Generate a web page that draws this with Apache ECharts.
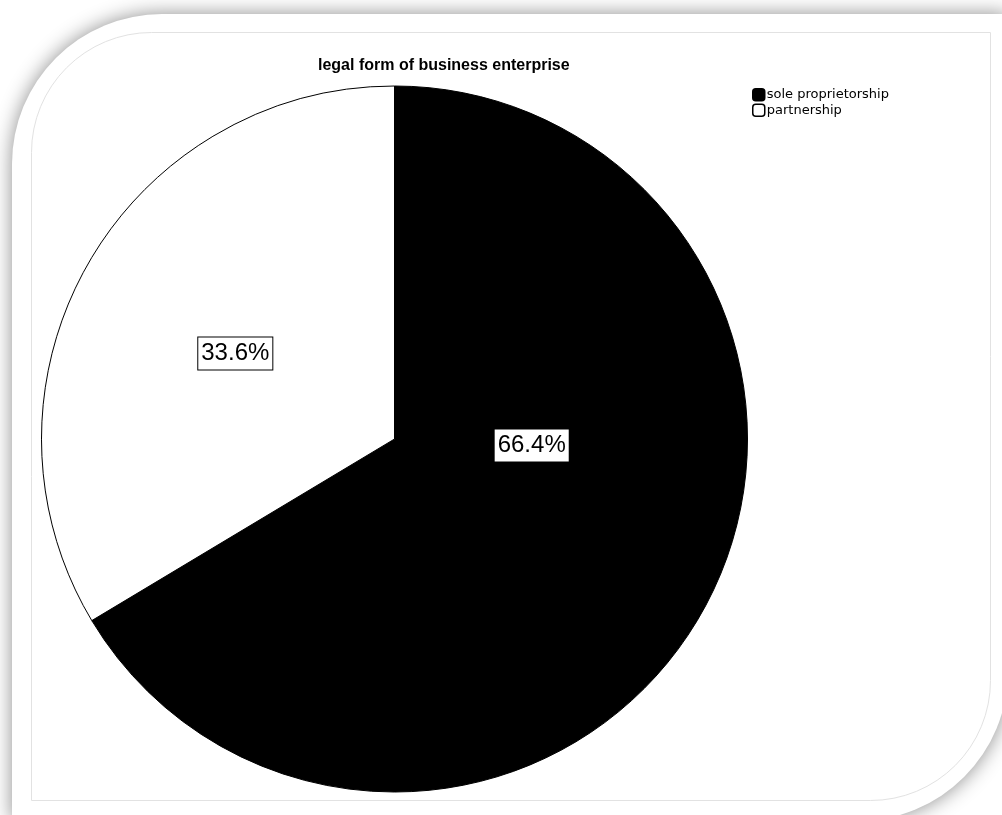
<!DOCTYPE html>
<html>
<head>
<meta charset="utf-8">
<style>
  html, body { margin: 0; padding: 0; background: #ffffff; }
  #chart { width: 1002px; height: 815px; }
</style>
<script src="https://cdn.jsdelivr.net/npm/echarts@6/dist/echarts.min.js"></script>
</head>
<body>
<div id="chart"></div>
<script>
// Legal form of business enterprise — share of respondents
const categories = ['sole proprietorship', 'partnership'];
const percentages = [66.4, 33.6];
const sliceColors = ['#000000', '#ffffff'];

const chart = echarts.init(document.getElementById('chart'), null, { renderer: 'canvas' });

const pieData = categories.map((name, i) => ({
  name: name,
  value: percentages[i],
  itemStyle: { color: sliceColors[i], borderColor: '#000000', borderWidth: 1 }
}));

const option = {
  backgroundColor: '#ffffff',
  animation: false,
  graphic: [
    {
      // outer card with soft drop shadow (rounded top-left / bottom-right)
      type: 'rect',
      z: -2,
      silent: true,
      shape: { x: 12, y: 14, width: 996, height: 807, r: [150, 0, 150, 0] },
      style: {
        fill: '#ffffff',
        shadowBlur: 20,
        shadowColor: 'rgba(0,0,0,0.45)'
      }
    },
    {
      // inner chart frame
      type: 'rect',
      z: -1,
      silent: true,
      shape: { x: 31.5, y: 32.5, width: 959, height: 768, r: [120, 0, 120, 0] },
      style: { fill: '#ffffff', stroke: '#e2e2e2', lineWidth: 1 }
    }
  ],
  title: {
    text: 'legal form of business enterprise',
    left: 318,
    top: 58,
    padding: 0,
    textStyle: {
      fontFamily: 'Liberation Sans, Arial, sans-serif',
      fontWeight: 'bold',
      fontSize: 16,
      color: '#000000'
    }
  },
  legend: {
    orient: 'vertical',
    left: 752,
    top: 88,
    padding: 0,
    itemGap: 2,
    itemWidth: 12,
    itemHeight: 12,
    icon: 'roundRect',
    textStyle: {
      fontFamily: 'DejaVu Sans, sans-serif',
      fontSize: 13,
      color: '#000000',
      padding: [0, 0, 0, -3]
    },
    data: categories.map((name, i) => ({
      name: name,
      itemStyle: { color: sliceColors[i], borderColor: '#000000', borderWidth: 1.5 }
    }))
  },
  series: [
    {
      type: 'pie',
      center: [394.5, 439],
      radius: [0, 353],
      startAngle: 90,
      clockwise: true,
      data: pieData,
      emphasis: { disabled: true },
      label: {
        show: true,
        position: 'inside',
        formatter: (p) => p.value.toFixed(1) + '%',
        fontFamily: 'Liberation Sans, Arial, sans-serif',
        fontSize: 24,
        color: '#000000',
        backgroundColor: '#ffffff',
        borderColor: '#000000',
        borderWidth: 1,
        padding: [5, 3, 3, 3]
      },
      labelLine: { show: false },
      labelLayout: (params) => params.dataIndex === 0 ? { dx: -19, dy: -82 } : { dx: -3, dy: 3 }
    }
  ]
};

chart.setOption(option);
</script>
</body>
</html>
